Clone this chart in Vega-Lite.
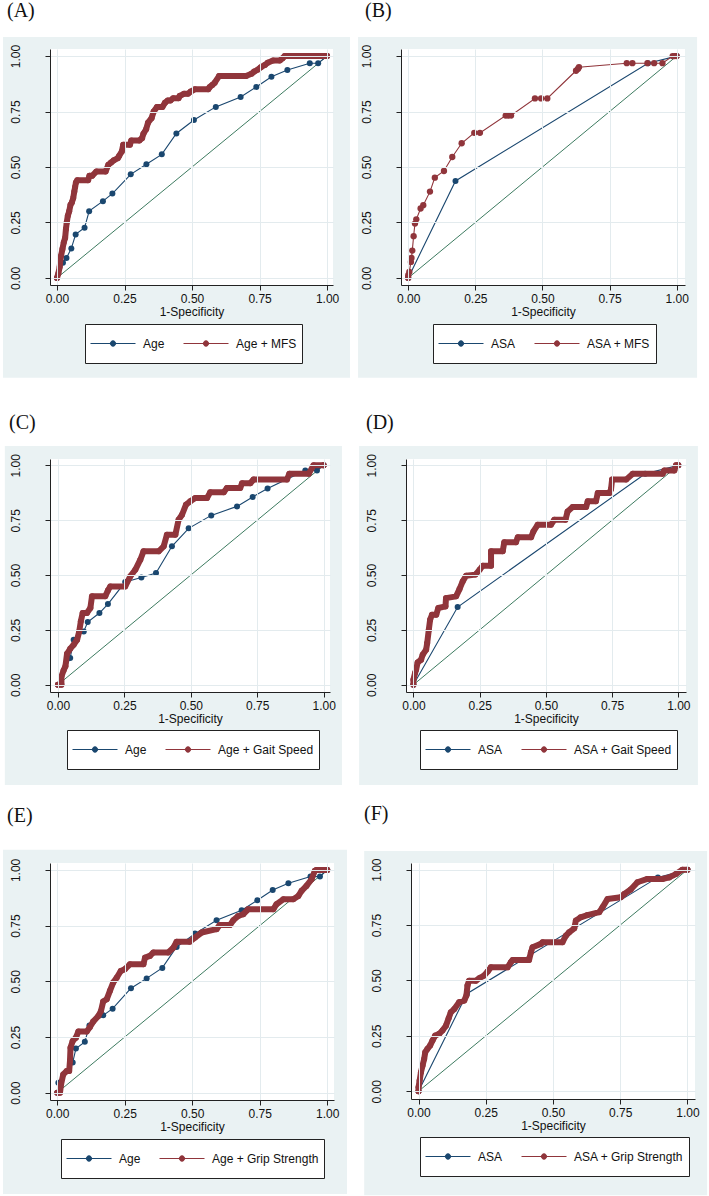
{
"$schema": "https://vega.github.io/schema/vega-lite/v6.json",
"background": "white",
"padding": {"left": 3, "top": 1, "right": 0, "bottom": 0},
"config": {
  "view": {"stroke": null},
  "axis": {"grid": true, "gridColor": "#e3ebee", "gridWidth": 1, "domainColor": "#222222", "tickColor": "#222222", "tickSize": 5, "labelFont": "Liberation Sans", "labelFontSize": 12, "labelColor": "#111111", "titleFont": "Liberation Sans", "titleFontSize": 12, "titleFontWeight": "normal", "titleColor": "#111111", "labelFlush": false, "labelOverlap": false},
  "axisX": {"labelPadding": 3, "titlePadding": 2},
  "axisY": {"labelAngle": -90, "labelAlign": "center", "labelBaseline": "alphabetic", "labelPadding": 26},
  "legend": {"fillColor": "#ffffff", "strokeColor": "#222222", "padding": 5, "labelFont": "Liberation Sans", "labelFontSize": 12, "labelColor": "#111111", "symbolStrokeWidth": 1, "clipHeight": 29, "labelOffset": 7, "columnPadding": 18},
  "title": {"font": "Liberation Serif", "fontSize": 20, "fontWeight": "normal", "anchor": "start", "frame": "group", "color": "#111111", "baseline": "alphabetic"}
},
"datasets": {
"A": [
{"m":"ref","x":0,"y":0},{"m":"ref","x":1,"y":1},
{"m":"Age","x":0,"y":0},{"m":"Age","x":0.022,"y":0.068},{"m":"Age","x":0.035,"y":0.09},{"m":"Age","x":0.053,"y":0.133},{"m":"Age","x":0.069,"y":0.196},{"m":"Age","x":0.102,"y":0.226},{"m":"Age","x":0.119,"y":0.301},{"m":"Age","x":0.17,"y":0.346},{"m":"Age","x":0.205,"y":0.38},{"m":"Age","x":0.273,"y":0.467},{"m":"Age","x":0.331,"y":0.512},{"m":"Age","x":0.388,"y":0.557},{"m":"Age","x":0.442,"y":0.651},{"m":"Age","x":0.507,"y":0.712},{"m":"Age","x":0.588,"y":0.771},{"m":"Age","x":0.68,"y":0.816},{"m":"Age","x":0.738,"y":0.861},{"m":"Age","x":0.794,"y":0.907},{"m":"Age","x":0.853,"y":0.937},{"m":"Age","x":0.936,"y":0.968},{"m":"Age","x":0.967,"y":0.968},{"m":"Age","x":1,"y":1},
{"m":"Age + MFS","x":0,"y":0},{"m":"Age + MFS","x":0.005,"y":0.02},{"m":"Age + MFS","x":0.01,"y":0.05},{"m":"Age + MFS","x":0.012,"y":0.08},{"m":"Age + MFS","x":0.015,"y":0.1},{"m":"Age + MFS","x":0.02,"y":0.13},{"m":"Age + MFS","x":0.025,"y":0.16},{"m":"Age + MFS","x":0.03,"y":0.18},{"m":"Age + MFS","x":0.033,"y":0.22},{"m":"Age + MFS","x":0.036,"y":0.25},{"m":"Age + MFS","x":0.04,"y":0.28},{"m":"Age + MFS","x":0.045,"y":0.3},{"m":"Age + MFS","x":0.05,"y":0.33},{"m":"Age + MFS","x":0.055,"y":0.34},{"m":"Age + MFS","x":0.06,"y":0.36},{"m":"Age + MFS","x":0.064,"y":0.39},{"m":"Age + MFS","x":0.067,"y":0.41},{"m":"Age + MFS","x":0.07,"y":0.43},{"m":"Age + MFS","x":0.075,"y":0.44},{"m":"Age + MFS","x":0.115,"y":0.44},{"m":"Age + MFS","x":0.12,"y":0.46},{"m":"Age + MFS","x":0.13,"y":0.46},{"m":"Age + MFS","x":0.146,"y":0.48},{"m":"Age + MFS","x":0.18,"y":0.48},{"m":"Age + MFS","x":0.19,"y":0.51},{"m":"Age + MFS","x":0.2,"y":0.52},{"m":"Age + MFS","x":0.21,"y":0.53},{"m":"Age + MFS","x":0.225,"y":0.54},{"m":"Age + MFS","x":0.23,"y":0.55},{"m":"Age + MFS","x":0.24,"y":0.57},{"m":"Age + MFS","x":0.245,"y":0.6},{"m":"Age + MFS","x":0.27,"y":0.6},{"m":"Age + MFS","x":0.275,"y":0.62},{"m":"Age + MFS","x":0.305,"y":0.62},{"m":"Age + MFS","x":0.315,"y":0.63},{"m":"Age + MFS","x":0.32,"y":0.65},{"m":"Age + MFS","x":0.33,"y":0.67},{"m":"Age + MFS","x":0.337,"y":0.7},{"m":"Age + MFS","x":0.35,"y":0.72},{"m":"Age + MFS","x":0.358,"y":0.75},{"m":"Age + MFS","x":0.37,"y":0.77},{"m":"Age + MFS","x":0.39,"y":0.77},{"m":"Age + MFS","x":0.4,"y":0.79},{"m":"Age + MFS","x":0.41,"y":0.8},{"m":"Age + MFS","x":0.42,"y":0.8},{"m":"Age + MFS","x":0.43,"y":0.81},{"m":"Age + MFS","x":0.45,"y":0.81},{"m":"Age + MFS","x":0.454,"y":0.82},{"m":"Age + MFS","x":0.47,"y":0.83},{"m":"Age + MFS","x":0.485,"y":0.83},{"m":"Age + MFS","x":0.495,"y":0.84},{"m":"Age + MFS","x":0.51,"y":0.85},{"m":"Age + MFS","x":0.56,"y":0.85},{"m":"Age + MFS","x":0.565,"y":0.86},{"m":"Age + MFS","x":0.575,"y":0.87},{"m":"Age + MFS","x":0.584,"y":0.88},{"m":"Age + MFS","x":0.6,"y":0.91},{"m":"Age + MFS","x":0.7,"y":0.91},{"m":"Age + MFS","x":0.72,"y":0.92},{"m":"Age + MFS","x":0.73,"y":0.93},{"m":"Age + MFS","x":0.745,"y":0.94},{"m":"Age + MFS","x":0.755,"y":0.95},{"m":"Age + MFS","x":0.77,"y":0.96},{"m":"Age + MFS","x":0.78,"y":0.97},{"m":"Age + MFS","x":0.8,"y":0.98},{"m":"Age + MFS","x":0.825,"y":0.98},{"m":"Age + MFS","x":0.835,"y":0.99},{"m":"Age + MFS","x":0.843,"y":1},{"m":"Age + MFS","x":1,"y":1}
],
"B": [
{"m":"ref","x":0,"y":0},{"m":"ref","x":1,"y":1},
{"m":"ASA","x":0,"y":0},{"m":"ASA","x":0.176,"y":0.437},{"m":"ASA","x":0.893,"y":0.968},{"m":"ASA","x":1,"y":1},
{"m":"ASA + MFS","x":0,"y":0},{"m":"ASA + MFS","x":0,"y":0.012},{"m":"ASA + MFS","x":0.004,"y":0.027},{"m":"ASA + MFS","x":0.01,"y":0.072},{"m":"ASA + MFS","x":0.012,"y":0.09},{"m":"ASA + MFS","x":0.015,"y":0.123},{"m":"ASA + MFS","x":0.02,"y":0.188},{"m":"ASA + MFS","x":0.025,"y":0.245},{"m":"ASA + MFS","x":0.03,"y":0.264},{"m":"ASA + MFS","x":0.046,"y":0.313},{"m":"ASA + MFS","x":0.056,"y":0.328},{"m":"ASA + MFS","x":0.081,"y":0.389},{"m":"ASA + MFS","x":0.099,"y":0.452},{"m":"ASA + MFS","x":0.133,"y":0.482},{"m":"ASA + MFS","x":0.164,"y":0.545},{"m":"ASA + MFS","x":0.199,"y":0.607},{"m":"ASA + MFS","x":0.246,"y":0.654},{"m":"ASA + MFS","x":0.267,"y":0.654},{"m":"ASA + MFS","x":0.363,"y":0.732},{"m":"ASA + MFS","x":0.373,"y":0.732},{"m":"ASA + MFS","x":0.383,"y":0.732},{"m":"ASA + MFS","x":0.472,"y":0.809},{"m":"ASA + MFS","x":0.495,"y":0.809},{"m":"ASA + MFS","x":0.518,"y":0.809},{"m":"ASA + MFS","x":0.625,"y":0.934},{"m":"ASA + MFS","x":0.632,"y":0.942},{"m":"ASA + MFS","x":0.636,"y":0.95},{"m":"ASA + MFS","x":0.814,"y":0.968},{"m":"ASA + MFS","x":0.835,"y":0.968},{"m":"ASA + MFS","x":0.891,"y":0.968},{"m":"ASA + MFS","x":0.916,"y":0.968},{"m":"ASA + MFS","x":0.947,"y":0.968},{"m":"ASA + MFS","x":0.985,"y":1},{"m":"ASA + MFS","x":0.992,"y":1},{"m":"ASA + MFS","x":1,"y":1}
],
"C": [
{"m":"ref","x":0,"y":0},{"m":"ref","x":1,"y":1},
{"m":"Age","x":0,"y":0},{"m":"Age","x":0.046,"y":0.122},{"m":"Age","x":0.059,"y":0.205},{"m":"Age","x":0.097,"y":0.243},{"m":"Age","x":0.112,"y":0.286},{"m":"Age","x":0.156,"y":0.327},{"m":"Age","x":0.188,"y":0.368},{"m":"Age","x":0.253,"y":0.468},{"m":"Age","x":0.314,"y":0.489},{"m":"Age","x":0.369,"y":0.509},{"m":"Age","x":0.429,"y":0.631},{"m":"Age","x":0.492,"y":0.713},{"m":"Age","x":0.577,"y":0.772},{"m":"Age","x":0.674,"y":0.813},{"m":"Age","x":0.733,"y":0.856},{"m":"Age","x":0.789,"y":0.895},{"m":"Age","x":0.931,"y":0.977},{"m":"Age","x":0.975,"y":0.977},{"m":"Age","x":1,"y":1},
{"m":"Age + Gait Speed","x":0,"y":0},{"m":"Age + Gait Speed","x":0.013,"y":0},{"m":"Age + Gait Speed","x":0.013,"y":0.038},{"m":"Age + Gait Speed","x":0.021,"y":0.065},{"m":"Age + Gait Speed","x":0.028,"y":0.084},{"m":"Age + Gait Speed","x":0.034,"y":0.141},{"m":"Age + Gait Speed","x":0.046,"y":0.164},{"m":"Age + Gait Speed","x":0.059,"y":0.182},{"m":"Age + Gait Speed","x":0.072,"y":0.205},{"m":"Age + Gait Speed","x":0.08,"y":0.243},{"m":"Age + Gait Speed","x":0.086,"y":0.289},{"m":"Age + Gait Speed","x":0.093,"y":0.327},{"m":"Age + Gait Speed","x":0.109,"y":0.327},{"m":"Age + Gait Speed","x":0.122,"y":0.35},{"m":"Age + Gait Speed","x":0.128,"y":0.403},{"m":"Age + Gait Speed","x":0.178,"y":0.403},{"m":"Age + Gait Speed","x":0.188,"y":0.43},{"m":"Age + Gait Speed","x":0.197,"y":0.448},{"m":"Age + Gait Speed","x":0.253,"y":0.448},{"m":"Age + Gait Speed","x":0.272,"y":0.494},{"m":"Age + Gait Speed","x":0.291,"y":0.524},{"m":"Age + Gait Speed","x":0.31,"y":0.57},{"m":"Age + Gait Speed","x":0.322,"y":0.608},{"m":"Age + Gait Speed","x":0.379,"y":0.608},{"m":"Age + Gait Speed","x":0.398,"y":0.631},{"m":"Age + Gait Speed","x":0.41,"y":0.684},{"m":"Age + Gait Speed","x":0.442,"y":0.684},{"m":"Age + Gait Speed","x":0.454,"y":0.752},{"m":"Age + Gait Speed","x":0.467,"y":0.775},{"m":"Age + Gait Speed","x":0.482,"y":0.821},{"m":"Age + Gait Speed","x":0.498,"y":0.836},{"m":"Age + Gait Speed","x":0.517,"y":0.851},{"m":"Age + Gait Speed","x":0.561,"y":0.851},{"m":"Age + Gait Speed","x":0.573,"y":0.877},{"m":"Age + Gait Speed","x":0.624,"y":0.877},{"m":"Age + Gait Speed","x":0.636,"y":0.897},{"m":"Age + Gait Speed","x":0.686,"y":0.897},{"m":"Age + Gait Speed","x":0.693,"y":0.919},{"m":"Age + Gait Speed","x":0.724,"y":0.919},{"m":"Age + Gait Speed","x":0.736,"y":0.935},{"m":"Age + Gait Speed","x":0.862,"y":0.935},{"m":"Age + Gait Speed","x":0.871,"y":0.962},{"m":"Age + Gait Speed","x":0.944,"y":0.962},{"m":"Age + Gait Speed","x":0.962,"y":1},{"m":"Age + Gait Speed","x":1,"y":1}
],
"D": [
{"m":"ref","x":0,"y":0},{"m":"ref","x":1,"y":1},
{"m":"ASA","x":0,"y":0},{"m":"ASA","x":0.167,"y":0.354},{"m":"ASA","x":0.875,"y":0.962},{"m":"ASA","x":1,"y":1},
{"m":"ASA + Gait Speed","x":0,"y":0},{"m":"ASA + Gait Speed","x":0,"y":0.023},{"m":"ASA + Gait Speed","x":0.006,"y":0.053},{"m":"ASA + Gait Speed","x":0.01,"y":0.068},{"m":"ASA + Gait Speed","x":0.016,"y":0.102},{"m":"ASA + Gait Speed","x":0.029,"y":0.114},{"m":"ASA + Gait Speed","x":0.035,"y":0.137},{"m":"ASA + Gait Speed","x":0.048,"y":0.16},{"m":"ASA + Gait Speed","x":0.052,"y":0.19},{"m":"ASA + Gait Speed","x":0.058,"y":0.25},{"m":"ASA + Gait Speed","x":0.063,"y":0.296},{"m":"ASA + Gait Speed","x":0.07,"y":0.319},{"m":"ASA + Gait Speed","x":0.086,"y":0.319},{"m":"ASA + Gait Speed","x":0.094,"y":0.35},{"m":"ASA + Gait Speed","x":0.121,"y":0.357},{"m":"ASA + Gait Speed","x":0.123,"y":0.395},{"m":"ASA + Gait Speed","x":0.161,"y":0.403},{"m":"ASA + Gait Speed","x":0.174,"y":0.436},{"m":"ASA + Gait Speed","x":0.186,"y":0.471},{"m":"ASA + Gait Speed","x":0.199,"y":0.497},{"m":"ASA + Gait Speed","x":0.234,"y":0.502},{"m":"ASA + Gait Speed","x":0.25,"y":0.524},{"m":"ASA + Gait Speed","x":0.262,"y":0.543},{"m":"ASA + Gait Speed","x":0.293,"y":0.543},{"m":"ASA + Gait Speed","x":0.293,"y":0.608},{"m":"ASA + Gait Speed","x":0.337,"y":0.608},{"m":"ASA + Gait Speed","x":0.343,"y":0.649},{"m":"ASA + Gait Speed","x":0.387,"y":0.649},{"m":"ASA + Gait Speed","x":0.394,"y":0.672},{"m":"ASA + Gait Speed","x":0.444,"y":0.672},{"m":"ASA + Gait Speed","x":0.453,"y":0.699},{"m":"ASA + Gait Speed","x":0.469,"y":0.729},{"m":"ASA + Gait Speed","x":0.519,"y":0.729},{"m":"ASA + Gait Speed","x":0.532,"y":0.752},{"m":"ASA + Gait Speed","x":0.574,"y":0.752},{"m":"ASA + Gait Speed","x":0.582,"y":0.79},{"m":"ASA + Gait Speed","x":0.601,"y":0.81},{"m":"ASA + Gait Speed","x":0.652,"y":0.81},{"m":"ASA + Gait Speed","x":0.658,"y":0.836},{"m":"ASA + Gait Speed","x":0.689,"y":0.836},{"m":"ASA + Gait Speed","x":0.696,"y":0.874},{"m":"ASA + Gait Speed","x":0.74,"y":0.874},{"m":"ASA + Gait Speed","x":0.746,"y":0.892},{"m":"ASA + Gait Speed","x":0.75,"y":0.935},{"m":"ASA + Gait Speed","x":0.803,"y":0.935},{"m":"ASA + Gait Speed","x":0.828,"y":0.962},{"m":"ASA + Gait Speed","x":0.941,"y":0.962},{"m":"ASA + Gait Speed","x":0.947,"y":0.977},{"m":"ASA + Gait Speed","x":0.985,"y":0.977},{"m":"ASA + Gait Speed","x":0.991,"y":1},{"m":"ASA + Gait Speed","x":1,"y":1}
],
"E": [
{"m":"ref","x":0,"y":0},{"m":"ref","x":1,"y":1},
{"m":"Age","x":0,"y":0},{"m":"Age","x":0.004,"y":0.045},{"m":"Age","x":0.057,"y":0.135},{"m":"Age","x":0.069,"y":0.198},{"m":"Age","x":0.102,"y":0.228},{"m":"Age","x":0.119,"y":0.301},{"m":"Age","x":0.17,"y":0.347},{"m":"Age","x":0.205,"y":0.377},{"m":"Age","x":0.273,"y":0.469},{"m":"Age","x":0.331,"y":0.513},{"m":"Age","x":0.389,"y":0.56},{"m":"Age","x":0.442,"y":0.654},{"m":"Age","x":0.51,"y":0.714},{"m":"Age","x":0.59,"y":0.774},{"m":"Age","x":0.683,"y":0.819},{"m":"Age","x":0.741,"y":0.864},{"m":"Age","x":0.798,"y":0.91},{"m":"Age","x":0.856,"y":0.94},{"m":"Age","x":0.938,"y":0.97},{"m":"Age","x":0.973,"y":0.97},{"m":"Age","x":1,"y":1},
{"m":"Age + Grip Strength","x":0,"y":0},{"m":"Age + Grip Strength","x":0.01,"y":0},{"m":"Age + Grip Strength","x":0.014,"y":0.037},{"m":"Age + Grip Strength","x":0.022,"y":0.082},{"m":"Age + Grip Strength","x":0.035,"y":0.097},{"m":"Age + Grip Strength","x":0.044,"y":0.097},{"m":"Age + Grip Strength","x":0.047,"y":0.142},{"m":"Age + Grip Strength","x":0.049,"y":0.202},{"m":"Age + Grip Strength","x":0.057,"y":0.232},{"m":"Age + Grip Strength","x":0.069,"y":0.247},{"m":"Age + Grip Strength","x":0.078,"y":0.274},{"m":"Age + Grip Strength","x":0.109,"y":0.274},{"m":"Age + Grip Strength","x":0.121,"y":0.295},{"m":"Age + Grip Strength","x":0.133,"y":0.319},{"m":"Age + Grip Strength","x":0.152,"y":0.344},{"m":"Age + Grip Strength","x":0.162,"y":0.367},{"m":"Age + Grip Strength","x":0.17,"y":0.409},{"m":"Age + Grip Strength","x":0.183,"y":0.419},{"m":"Age + Grip Strength","x":0.195,"y":0.457},{"m":"Age + Grip Strength","x":0.207,"y":0.494},{"m":"Age + Grip Strength","x":0.22,"y":0.516},{"m":"Age + Grip Strength","x":0.235,"y":0.546},{"m":"Age + Grip Strength","x":0.25,"y":0.554},{"m":"Age + Grip Strength","x":0.269,"y":0.576},{"m":"Age + Grip Strength","x":0.319,"y":0.576},{"m":"Age + Grip Strength","x":0.325,"y":0.606},{"m":"Age + Grip Strength","x":0.343,"y":0.614},{"m":"Age + Grip Strength","x":0.356,"y":0.629},{"m":"Age + Grip Strength","x":0.411,"y":0.629},{"m":"Age + Grip Strength","x":0.43,"y":0.651},{"m":"Age + Grip Strength","x":0.442,"y":0.678},{"m":"Age + Grip Strength","x":0.491,"y":0.678},{"m":"Age + Grip Strength","x":0.51,"y":0.696},{"m":"Age + Grip Strength","x":0.535,"y":0.719},{"m":"Age + Grip Strength","x":0.59,"y":0.734},{"m":"Age + Grip Strength","x":0.602,"y":0.753},{"m":"Age + Grip Strength","x":0.64,"y":0.753},{"m":"Age + Grip Strength","x":0.652,"y":0.774},{"m":"Age + Grip Strength","x":0.67,"y":0.793},{"m":"Age + Grip Strength","x":0.689,"y":0.801},{"m":"Age + Grip Strength","x":0.707,"y":0.823},{"m":"Age + Grip Strength","x":0.8,"y":0.823},{"m":"Age + Grip Strength","x":0.812,"y":0.846},{"m":"Age + Grip Strength","x":0.837,"y":0.868},{"m":"Age + Grip Strength","x":0.874,"y":0.868},{"m":"Age + Grip Strength","x":0.893,"y":0.883},{"m":"Age + Grip Strength","x":0.905,"y":0.906},{"m":"Age + Grip Strength","x":0.923,"y":0.928},{"m":"Age + Grip Strength","x":0.942,"y":0.958},{"m":"Age + Grip Strength","x":0.954,"y":0.996},{"m":"Age + Grip Strength","x":0.96,"y":1},{"m":"Age + Grip Strength","x":1,"y":1}
],
"F": [
{"m":"ref","x":0,"y":0},{"m":"ref","x":1,"y":1},
{"m":"ASA","x":0,"y":0},{"m":"ASA","x":0.18,"y":0.44},{"m":"ASA","x":0.89,"y":0.965},{"m":"ASA","x":1,"y":1},
{"m":"ASA + Grip Strength","x":0,"y":0},{"m":"ASA + Grip Strength","x":0,"y":0.018},{"m":"ASA + Grip Strength","x":0.004,"y":0.048},{"m":"ASA + Grip Strength","x":0.009,"y":0.086},{"m":"ASA + Grip Strength","x":0.015,"y":0.116},{"m":"ASA + Grip Strength","x":0.021,"y":0.146},{"m":"ASA + Grip Strength","x":0.025,"y":0.176},{"m":"ASA + Grip Strength","x":0.033,"y":0.191},{"m":"ASA + Grip Strength","x":0.043,"y":0.206},{"m":"ASA + Grip Strength","x":0.052,"y":0.229},{"m":"ASA + Grip Strength","x":0.062,"y":0.251},{"m":"ASA + Grip Strength","x":0.077,"y":0.259},{"m":"ASA + Grip Strength","x":0.089,"y":0.274},{"m":"ASA + Grip Strength","x":0.102,"y":0.296},{"m":"ASA + Grip Strength","x":0.112,"y":0.329},{"m":"ASA + Grip Strength","x":0.12,"y":0.356},{"m":"ASA + Grip Strength","x":0.133,"y":0.371},{"m":"ASA + Grip Strength","x":0.151,"y":0.402},{"m":"ASA + Grip Strength","x":0.17,"y":0.409},{"m":"ASA + Grip Strength","x":0.178,"y":0.432},{"m":"ASA + Grip Strength","x":0.182,"y":0.477},{"m":"ASA + Grip Strength","x":0.188,"y":0.499},{"m":"ASA + Grip Strength","x":0.213,"y":0.499},{"m":"ASA + Grip Strength","x":0.226,"y":0.51},{"m":"ASA + Grip Strength","x":0.244,"y":0.522},{"m":"ASA + Grip Strength","x":0.257,"y":0.54},{"m":"ASA + Grip Strength","x":0.269,"y":0.559},{"m":"ASA + Grip Strength","x":0.331,"y":0.559},{"m":"ASA + Grip Strength","x":0.343,"y":0.582},{"m":"ASA + Grip Strength","x":0.35,"y":0.592},{"m":"ASA + Grip Strength","x":0.411,"y":0.592},{"m":"ASA + Grip Strength","x":0.418,"y":0.627},{"m":"ASA + Grip Strength","x":0.424,"y":0.65},{"m":"ASA + Grip Strength","x":0.455,"y":0.665},{"m":"ASA + Grip Strength","x":0.461,"y":0.672},{"m":"ASA + Grip Strength","x":0.535,"y":0.672},{"m":"ASA + Grip Strength","x":0.548,"y":0.702},{"m":"ASA + Grip Strength","x":0.56,"y":0.717},{"m":"ASA + Grip Strength","x":0.579,"y":0.735},{"m":"ASA + Grip Strength","x":0.585,"y":0.77},{"m":"ASA + Grip Strength","x":0.603,"y":0.785},{"m":"ASA + Grip Strength","x":0.628,"y":0.795},{"m":"ASA + Grip Strength","x":0.672,"y":0.808},{"m":"ASA + Grip Strength","x":0.684,"y":0.83},{"m":"ASA + Grip Strength","x":0.703,"y":0.868},{"m":"ASA + Grip Strength","x":0.752,"y":0.875},{"m":"ASA + Grip Strength","x":0.765,"y":0.89},{"m":"ASA + Grip Strength","x":0.789,"y":0.91},{"m":"ASA + Grip Strength","x":0.814,"y":0.943},{"m":"ASA + Grip Strength","x":0.851,"y":0.958},{"m":"ASA + Grip Strength","x":0.907,"y":0.958},{"m":"ASA + Grip Strength","x":0.932,"y":0.965},{"m":"ASA + Grip Strength","x":0.957,"y":0.98},{"m":"ASA + Grip Strength","x":0.981,"y":1},{"m":"ASA + Grip Strength","x":1,"y":1}
]
},
"spacing": 35,
"resolve": {"scale": {"color": "independent"}, "legend": {"color": "independent"}},
"vconcat": [
{
"hconcat": [
{
 "width": 283, "height": 236,
 "title": {"text": "(A)", "dx": -43, "offset": 16},
 "data": {"name": "A"},
 "encoding": {
   "x": {"field": "x", "type": "quantitative", "scale": {"domain": [-0.026, 1.022], "nice": false}, "axis": {"values": [0,0.25,0.5,0.75,1], "format": ".2f", "title": "1-Specificity", "zindex": 1}},
   "y": {"field": "y", "type": "quantitative", "scale": {"domain": [-0.032, 1.032], "nice": false}, "axis": {"values": [0,0.25,0.5,0.75,1], "format": ".2f", "title": null, "zindex": 1}},
   "color": {"field": "m", "type": "nominal", "scale": {"domain": ["Age", "Age + MFS"], "range": ["#1a476f", "#90353b"]}, "legend": {"orient": "none", "legendX": 35, "legendY": 275, "title": null, "direction": "horizontal", "columns": 2, "zindex": 1, "symbolType": "M-1,0H1M0.12,0A0.12,0.12,0,1,1,-0.12,0A0.12,0.12,0,1,1,0.12,0Z", "symbolSize": 2025, "encode": {"symbols": {"update": {"fill": {"signal": "datum.index === 0 ? '#1a476f' : '#90353b'"}, "stroke": {"signal": "datum.index === 0 ? '#1a476f' : '#90353b'"}, "strokeWidth": {"value": 1}, "opacity": {"value": 1}}}}}}
 },
 "layer": [
  {"transform": [{"filter": "datum.m === 'ref' && datum.x === 0"}], "mark": {"type": "rect", "fill": "#eaf2f3"}, "encoding": {"x": {"datum": -0.2, "type": "quantitative"}, "x2": {"datum": 1.085}, "y": {"datum": -0.45, "type": "quantitative"}, "y2": {"datum": 1.086}, "color": {"value": "#eaf2f3"}}},
  {"transform": [{"filter": "datum.m === 'ref' && datum.x === 0"}], "mark": {"type": "rect", "fill": "#ffffff"}, "encoding": {"x": {"datum": -0.026, "type": "quantitative"}, "x2": {"datum": 1.022}, "y": {"datum": -0.032, "type": "quantitative"}, "y2": {"datum": 1.032}, "color": {"value": "#ffffff"}}},
  {"transform": [{"filter": "datum.m === 'ref'"}], "mark": {"type": "line", "strokeWidth": 1}, "encoding": {"color": {"value": "#3d7b60"}, "order": {"value": null}}},
  {"transform": [{"filter": "datum.m === 'Age'"}], "mark": {"type": "line", "strokeWidth": 1.1}, "encoding": {"order": {"value": null}}},
  {"transform": [{"filter": "datum.m === 'Age'"}], "mark": {"type": "point", "filled": true, "size": 36, "opacity": 1}},
  {"transform": [{"filter": "datum.m === 'Age + MFS'"}], "mark": {"type": "line", "strokeWidth": 6, "strokeJoin": "round", "strokeCap": "round"}, "encoding": {"order": {"value": null}}},
  {"transform": [{"filter": "datum.m === 'Age + MFS'"}], "mark": {"type": "point", "filled": true, "size": 36, "opacity": 1}}
 ]
},
{
 "width": 284, "height": 236,
 "title": {"text": "(B)", "dx": -36, "offset": 16},
 "data": {"name": "B"},
 "encoding": {
   "x": {"field": "x", "type": "quantitative", "scale": {"domain": [-0.027, 1.031], "nice": false}, "axis": {"values": [0,0.25,0.5,0.75,1], "format": ".2f", "title": "1-Specificity", "zindex": 1}},
   "y": {"field": "y", "type": "quantitative", "scale": {"domain": [-0.032, 1.032], "nice": false}, "axis": {"values": [0,0.25,0.5,0.75,1], "format": ".2f", "title": null, "zindex": 1}},
   "color": {"field": "m", "type": "nominal", "scale": {"domain": ["ASA", "ASA + MFS"], "range": ["#1a476f", "#90353b"]}, "legend": {"orient": "none", "legendX": 32, "legendY": 275, "title": null, "direction": "horizontal", "columns": 2, "zindex": 1, "symbolType": "M-1,0H1M0.12,0A0.12,0.12,0,1,1,-0.12,0A0.12,0.12,0,1,1,0.12,0Z", "symbolSize": 2025, "encode": {"symbols": {"update": {"fill": {"signal": "datum.index === 0 ? '#1a476f' : '#90353b'"}, "stroke": {"signal": "datum.index === 0 ? '#1a476f' : '#90353b'"}, "strokeWidth": {"value": 1}, "opacity": {"value": 1}}}}}}
 },
 "layer": [
  {"transform": [{"filter": "datum.m === 'ref' && datum.x === 0"}], "mark": {"type": "rect", "fill": "#eaf2f3"}, "encoding": {"x": {"datum": -0.187, "type": "quantitative"}, "x2": {"datum": 1.076}, "y": {"datum": -0.45, "type": "quantitative"}, "y2": {"datum": 1.086}, "color": {"value": "#eaf2f3"}}},
  {"transform": [{"filter": "datum.m === 'ref' && datum.x === 0"}], "mark": {"type": "rect", "fill": "#ffffff"}, "encoding": {"x": {"datum": -0.027, "type": "quantitative"}, "x2": {"datum": 1.031}, "y": {"datum": -0.032, "type": "quantitative"}, "y2": {"datum": 1.032}, "color": {"value": "#ffffff"}}},
  {"transform": [{"filter": "datum.m === 'ref'"}], "mark": {"type": "line", "strokeWidth": 1}, "encoding": {"color": {"value": "#3d7b60"}, "order": {"value": null}}},
  {"transform": [{"filter": "datum.m === 'ASA'"}], "mark": {"type": "line", "strokeWidth": 1.1}, "encoding": {"order": {"value": null}}},
  {"transform": [{"filter": "datum.m === 'ASA'"}], "mark": {"type": "point", "filled": true, "size": 36, "opacity": 1}},
  {"transform": [{"filter": "datum.m === 'ASA + MFS'"}], "mark": {"type": "line", "strokeWidth": 1.1}, "encoding": {"order": {"value": null}}},
  {"transform": [{"filter": "datum.m === 'ASA + MFS'"}], "mark": {"type": "point", "filled": true, "size": 40, "opacity": 1}}
 ]
}
],
"spacing": 7,
"resolve": {"scale": {"color": "independent"}, "legend": {"color": "independent"}}
},
{
"vconcat": [
{
"hconcat": [
{
 "width": 280, "height": 233,
 "title": {"text": "(C)", "dx": -41, "offset": 13},
 "data": {"name": "C"},
 "encoding": {
   "x": {"field": "x", "type": "quantitative", "scale": {"domain": [-0.03, 1.024], "nice": false}, "axis": {"values": [0,0.25,0.5,0.75,1], "format": ".2f", "title": "1-Specificity", "zindex": 1}},
   "y": {"field": "y", "type": "quantitative", "scale": {"domain": [-0.033, 1.029], "nice": false}, "axis": {"values": [0,0.25,0.5,0.75,1], "format": ".2f", "title": null, "zindex": 1}},
   "color": {"field": "m", "type": "nominal", "scale": {"domain": ["Age", "Age + Gait Speed"], "range": ["#1a476f", "#90353b"]}, "legend": {"orient": "none", "legendX": 17, "legendY": 271, "title": null, "direction": "horizontal", "columns": 2, "zindex": 1, "symbolType": "M-1,0H1M0.12,0A0.12,0.12,0,1,1,-0.12,0A0.12,0.12,0,1,1,0.12,0Z", "symbolSize": 2025, "encode": {"symbols": {"update": {"fill": {"signal": "datum.index === 0 ? '#1a476f' : '#90353b'"}, "stroke": {"signal": "datum.index === 0 ? '#1a476f' : '#90353b'"}, "strokeWidth": {"value": 1}, "opacity": {"value": 1}}}}}}
 },
 "layer": [
  {"transform": [{"filter": "datum.m === 'ref' && datum.x === 0"}], "mark": {"type": "rect", "fill": "#eaf2f3"}, "encoding": {"x": {"datum": -0.2, "type": "quantitative"}, "x2": {"datum": 1.069}, "y": {"datum": -0.457, "type": "quantitative"}, "y2": {"datum": 1.088}, "color": {"value": "#eaf2f3"}}},
  {"transform": [{"filter": "datum.m === 'ref' && datum.x === 0"}], "mark": {"type": "rect", "fill": "#ffffff"}, "encoding": {"x": {"datum": -0.03, "type": "quantitative"}, "x2": {"datum": 1.024}, "y": {"datum": -0.033, "type": "quantitative"}, "y2": {"datum": 1.029}, "color": {"value": "#ffffff"}}},
  {"transform": [{"filter": "datum.m === 'ref'"}], "mark": {"type": "line", "strokeWidth": 1}, "encoding": {"color": {"value": "#3d7b60"}, "order": {"value": null}}},
  {"transform": [{"filter": "datum.m === 'Age'"}], "mark": {"type": "line", "strokeWidth": 1.1}, "encoding": {"order": {"value": null}}},
  {"transform": [{"filter": "datum.m === 'Age'"}], "mark": {"type": "point", "filled": true, "size": 36, "opacity": 1}},
  {"transform": [{"filter": "datum.m === 'Age + Gait Speed'"}], "mark": {"type": "line", "strokeWidth": 6, "strokeJoin": "round", "strokeCap": "round"}, "encoding": {"order": {"value": null}}},
  {"transform": [{"filter": "datum.m === 'Age + Gait Speed'"}], "mark": {"type": "point", "filled": true, "size": 36, "opacity": 1}}
 ]
},
{
 "width": 280, "height": 233,
 "title": {"text": "(D)", "dx": -40, "offset": 13},
 "data": {"name": "D"},
 "encoding": {
   "x": {"field": "x", "type": "quantitative", "scale": {"domain": [-0.028, 1.029], "nice": false}, "axis": {"values": [0,0.25,0.5,0.75,1], "format": ".2f", "title": "1-Specificity", "zindex": 1}},
   "y": {"field": "y", "type": "quantitative", "scale": {"domain": [-0.033, 1.029], "nice": false}, "axis": {"values": [0,0.25,0.5,0.75,1], "format": ".2f", "title": null, "zindex": 1}},
   "color": {"field": "m", "type": "nominal", "scale": {"domain": ["ASA", "ASA + Gait Speed"], "range": ["#1a476f", "#90353b"]}, "legend": {"orient": "none", "legendX": 14, "legendY": 271, "title": null, "direction": "horizontal", "columns": 2, "zindex": 1, "symbolType": "M-1,0H1M0.12,0A0.12,0.12,0,1,1,-0.12,0A0.12,0.12,0,1,1,0.12,0Z", "symbolSize": 2025, "encode": {"symbols": {"update": {"fill": {"signal": "datum.index === 0 ? '#1a476f' : '#90353b'"}, "stroke": {"signal": "datum.index === 0 ? '#1a476f' : '#90353b'"}, "strokeWidth": {"value": 1}, "opacity": {"value": 1}}}}}}
 },
 "layer": [
  {"transform": [{"filter": "datum.m === 'ref' && datum.x === 0"}], "mark": {"type": "rect", "fill": "#eaf2f3"}, "encoding": {"x": {"datum": -0.205, "type": "quantitative"}, "x2": {"datum": 1.074}, "y": {"datum": -0.457, "type": "quantitative"}, "y2": {"datum": 1.088}, "color": {"value": "#eaf2f3"}}},
  {"transform": [{"filter": "datum.m === 'ref' && datum.x === 0"}], "mark": {"type": "rect", "fill": "#ffffff"}, "encoding": {"x": {"datum": -0.028, "type": "quantitative"}, "x2": {"datum": 1.029}, "y": {"datum": -0.033, "type": "quantitative"}, "y2": {"datum": 1.029}, "color": {"value": "#ffffff"}}},
  {"transform": [{"filter": "datum.m === 'ref'"}], "mark": {"type": "line", "strokeWidth": 1}, "encoding": {"color": {"value": "#3d7b60"}, "order": {"value": null}}},
  {"transform": [{"filter": "datum.m === 'ASA'"}], "mark": {"type": "line", "strokeWidth": 1.1}, "encoding": {"order": {"value": null}}},
  {"transform": [{"filter": "datum.m === 'ASA'"}], "mark": {"type": "point", "filled": true, "size": 36, "opacity": 1}},
  {"transform": [{"filter": "datum.m === 'ASA + Gait Speed'"}], "mark": {"type": "line", "strokeWidth": 6, "strokeJoin": "round", "strokeCap": "round"}, "encoding": {"order": {"value": null}}},
  {"transform": [{"filter": "datum.m === 'ASA + Gait Speed'"}], "mark": {"type": "point", "filled": true, "size": 36, "opacity": 1}}
 ]
}
],
"spacing": 17,
"resolve": {"scale": {"color": "independent"}, "legend": {"color": "independent"}}
},
{
"hconcat": [
{
 "width": 284, "height": 237,
 "title": {"text": "(E)", "dx": -43, "offset": 24},
 "data": {"name": "E"},
 "encoding": {
   "x": {"field": "x", "type": "quantitative", "scale": {"domain": [-0.027, 1.025], "nice": false}, "axis": {"values": [0,0.25,0.5,0.75,1], "format": ".2f", "title": "1-Specificity", "zindex": 1}},
   "y": {"field": "y", "type": "quantitative", "scale": {"domain": [-0.033, 1.031], "nice": false}, "axis": {"values": [0,0.25,0.5,0.75,1], "format": ".2f", "title": null, "zindex": 1}},
   "color": {"field": "m", "type": "nominal", "scale": {"domain": ["Age", "Age + Grip Strength"], "range": ["#1a476f", "#90353b"]}, "legend": {"orient": "none", "legendX": 11, "legendY": 276, "title": null, "direction": "horizontal", "columns": 2, "zindex": 1, "symbolType": "M-1,0H1M0.12,0A0.12,0.12,0,1,1,-0.12,0A0.12,0.12,0,1,1,0.12,0Z", "symbolSize": 2025, "encode": {"symbols": {"update": {"fill": {"signal": "datum.index === 0 ? '#1a476f' : '#90353b'"}, "stroke": {"signal": "datum.index === 0 ? '#1a476f' : '#90353b'"}, "strokeWidth": {"value": 1}, "opacity": {"value": 1}}}}}}
 },
 "layer": [
  {"transform": [{"filter": "datum.m === 'ref' && datum.x === 0"}], "mark": {"type": "rect", "fill": "#eaf2f3"}, "encoding": {"x": {"datum": -0.201, "type": "quantitative"}, "x2": {"datum": 1.073}, "y": {"datum": -0.455, "type": "quantitative"}, "y2": {"datum": 1.09}, "color": {"value": "#eaf2f3"}}},
  {"transform": [{"filter": "datum.m === 'ref' && datum.x === 0"}], "mark": {"type": "rect", "fill": "#ffffff"}, "encoding": {"x": {"datum": -0.027, "type": "quantitative"}, "x2": {"datum": 1.025}, "y": {"datum": -0.033, "type": "quantitative"}, "y2": {"datum": 1.031}, "color": {"value": "#ffffff"}}},
  {"transform": [{"filter": "datum.m === 'ref'"}], "mark": {"type": "line", "strokeWidth": 1}, "encoding": {"color": {"value": "#3d7b60"}, "order": {"value": null}}},
  {"transform": [{"filter": "datum.m === 'Age'"}], "mark": {"type": "line", "strokeWidth": 1.1}, "encoding": {"order": {"value": null}}},
  {"transform": [{"filter": "datum.m === 'Age'"}], "mark": {"type": "point", "filled": true, "size": 36, "opacity": 1}},
  {"transform": [{"filter": "datum.m === 'Age + Grip Strength'"}], "mark": {"type": "line", "strokeWidth": 6, "strokeJoin": "round", "strokeCap": "round"}, "encoding": {"order": {"value": null}}},
  {"transform": [{"filter": "datum.m === 'Age + Grip Strength'"}], "mark": {"type": "point", "filled": true, "size": 36, "opacity": 1}}
 ]
},
{
 "width": 284, "height": 236,
 "title": {"text": "(F)", "dx": -47, "offset": 27},
 "data": {"name": "F"},
 "encoding": {
   "x": {"field": "x", "type": "quantitative", "scale": {"domain": [-0.028, 1.028], "nice": false}, "axis": {"values": [0,0.25,0.5,0.75,1], "format": ".2f", "title": "1-Specificity", "zindex": 1}},
   "y": {"field": "y", "type": "quantitative", "scale": {"domain": [-0.035, 1.03], "nice": false}, "axis": {"values": [0,0.25,0.5,0.75,1], "format": ".2f", "title": null, "zindex": 1}},
   "color": {"field": "m", "type": "nominal", "scale": {"domain": ["ASA", "ASA + Grip Strength"], "range": ["#1a476f", "#90353b"]}, "legend": {"orient": "none", "legendX": 9, "legendY": 274, "title": null, "direction": "horizontal", "columns": 2, "zindex": 1, "symbolType": "M-1,0H1M0.12,0A0.12,0.12,0,1,1,-0.12,0A0.12,0.12,0,1,1,0.12,0Z", "symbolSize": 2025, "encode": {"symbols": {"update": {"fill": {"signal": "datum.index === 0 ? '#1a476f' : '#90353b'"}, "stroke": {"signal": "datum.index === 0 ? '#1a476f' : '#90353b'"}, "strokeWidth": {"value": 1}, "opacity": {"value": 1}}}}}}
 },
 "layer": [
  {"transform": [{"filter": "datum.m === 'ref' && datum.x === 0"}], "mark": {"type": "rect", "fill": "#eaf2f3"}, "encoding": {"x": {"datum": -0.202, "type": "quantitative"}, "x2": {"datum": 1.073}, "y": {"datum": -0.469, "type": "quantitative"}, "y2": {"datum": 1.084}, "color": {"value": "#eaf2f3"}}},
  {"transform": [{"filter": "datum.m === 'ref' && datum.x === 0"}], "mark": {"type": "rect", "fill": "#ffffff"}, "encoding": {"x": {"datum": -0.028, "type": "quantitative"}, "x2": {"datum": 1.028}, "y": {"datum": -0.035, "type": "quantitative"}, "y2": {"datum": 1.03}, "color": {"value": "#ffffff"}}},
  {"transform": [{"filter": "datum.m === 'ref'"}], "mark": {"type": "line", "strokeWidth": 1}, "encoding": {"color": {"value": "#3d7b60"}, "order": {"value": null}}},
  {"transform": [{"filter": "datum.m === 'ASA'"}], "mark": {"type": "line", "strokeWidth": 1.1}, "encoding": {"order": {"value": null}}},
  {"transform": [{"filter": "datum.m === 'ASA'"}], "mark": {"type": "point", "filled": true, "size": 36, "opacity": 1}},
  {"transform": [{"filter": "datum.m === 'ASA + Grip Strength'"}], "mark": {"type": "line", "strokeWidth": 6, "strokeJoin": "round", "strokeCap": "round"}, "encoding": {"order": {"value": null}}},
  {"transform": [{"filter": "datum.m === 'ASA + Grip Strength'"}], "mark": {"type": "point", "filled": true, "size": 36, "opacity": 1}}
 ]
}
],
"spacing": 17,
"resolve": {"scale": {"color": "independent"}, "legend": {"color": "independent"}}
}
],
"spacing": 18,
"resolve": {"scale": {"color": "independent"}, "legend": {"color": "independent"}}
}
]
}
